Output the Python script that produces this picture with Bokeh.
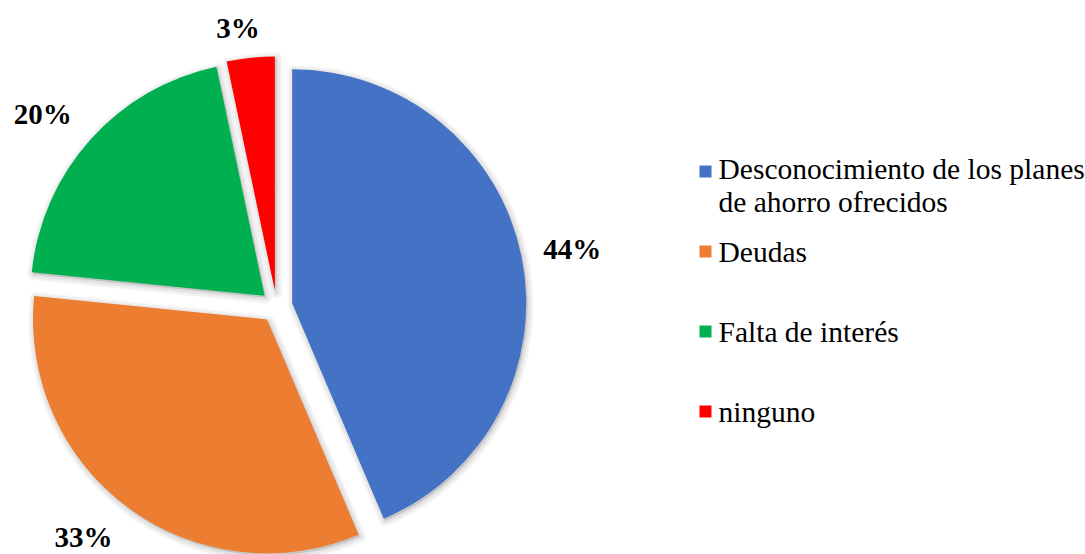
import numpy as np
from bokeh.plotting import figure
from bokeh.models import Range1d, ColumnDataSource
from bokeh.core.properties import value
from bokeh.embed import file_html
from bokeh.resources import INLINE

# ---- data ----
categories = ["Desconocimiento de los planes de ahorro ofrecidos", "Deudas",
              "Falta de interés", "ninguno"]
legend_labels = ["Desconocimiento de los planes\nde ahorro ofrecidos", "Deudas",
                 "Falta de interés", "ninguno"]
values = [43.6, 33.0, 20.1, 3.3]
colors = ["#4472C4", "#ED7D31", "#00B050", "#FF0000"]

# ---- layout (screen pixels, origin top-left) ----
W, H = 1085, 554
CX, CY = 276, 306          # pie centre
R = 234
EXPLODE = 16
FONT = "Liberation Serif"
FS = 29
# small screen-pixel nudges for the data labels (dx right, dy down)
LABEL_NUDGE = [(1, 3), (-17, -9), (-11, 8), (-9, 4)]


def sx(xp):
    return xp - CX


def sy(yp):
    return CY - yp


p = figure(width=W, height=H,
           x_range=Range1d(-CX, W - CX),
           y_range=Range1d(CY - H, CY),
           output_backend="svg", toolbar_location=None, min_border=0,
           x_axis_location=None, y_axis_location=None)
p.grid.visible = False
p.outline_line_color = None

vals = np.array(values, float)
frac = vals / vals.sum()
cum_end = np.cumsum(frac)
cum_start = cum_end - frac
mid = (cum_start + cum_end) / 2
start_angle = np.pi / 2 - cum_end * 2 * np.pi
end_angle = np.pi / 2 - cum_start * 2 * np.pi
bis = np.pi / 2 - mid * 2 * np.pi
ux, uy = np.cos(bis), np.sin(bis)

src = ColumnDataSource(dict(
    x=EXPLODE * ux, y=EXPLODE * uy,
    shx=EXPLODE * ux + 1.5, shy=EXPLODE * uy - 2.0,
    start=start_angle, end=end_angle, color=colors, cat=categories))

# soft shadow
for lw in [12, 9, 6, 3]:
    p.wedge(x="shx", y="shy", radius=R, start_angle="start", end_angle="end",
            source=src, fill_color="black", fill_alpha=0.03,
            line_color="black", line_alpha=0.03, line_width=lw,
            line_join="round")

p.wedge(x="x", y="y", radius=R, start_angle="start", end_angle="end",
        source=src, fill_color="color", line_color=None)

# data labels (outside end)
lab = [f"{int(round(v))}%" for v in frac * 100]
wbox = np.array([(len(s) - 1) * 0.5 * FS + FS for s in lab])
hbox = 24
ext = np.abs(ux) * wbox / 2 + np.abs(uy) * hbox / 2
dist = R + EXPLODE + 20 + ext
lx = dist * ux + np.array([n[0] for n in LABEL_NUDGE])
ly = dist * uy - np.array([n[1] for n in LABEL_NUDGE])
p.text(x=lx, y=ly, text=lab, text_font=value(FONT),
       text_font_style="bold", text_font_size=f"{FS}px",
       text_align="center", text_baseline="middle", text_color="black")

# legend
n = len(categories)
sq_cy = [171 + 80 * i for i in range(n)]
p.rect(x=[sx(705)] * n, y=[sy(c) for c in sq_cy], width=12, height=12,
       fill_color=colors, line_color=None)
txt_cy = [c + (14 if "\n" in t else 0) for c, t in zip(sq_cy, legend_labels)]
p.text(x=[sx(718)] * n, y=[sy(c) for c in txt_cy],
       text=legend_labels, text_font=value(FONT), text_font_size="29.5px",
       text_align="left", text_baseline="middle", text_color="black",
       text_line_height=1.03)

open("out.html", "w").write(file_html(p, INLINE))
